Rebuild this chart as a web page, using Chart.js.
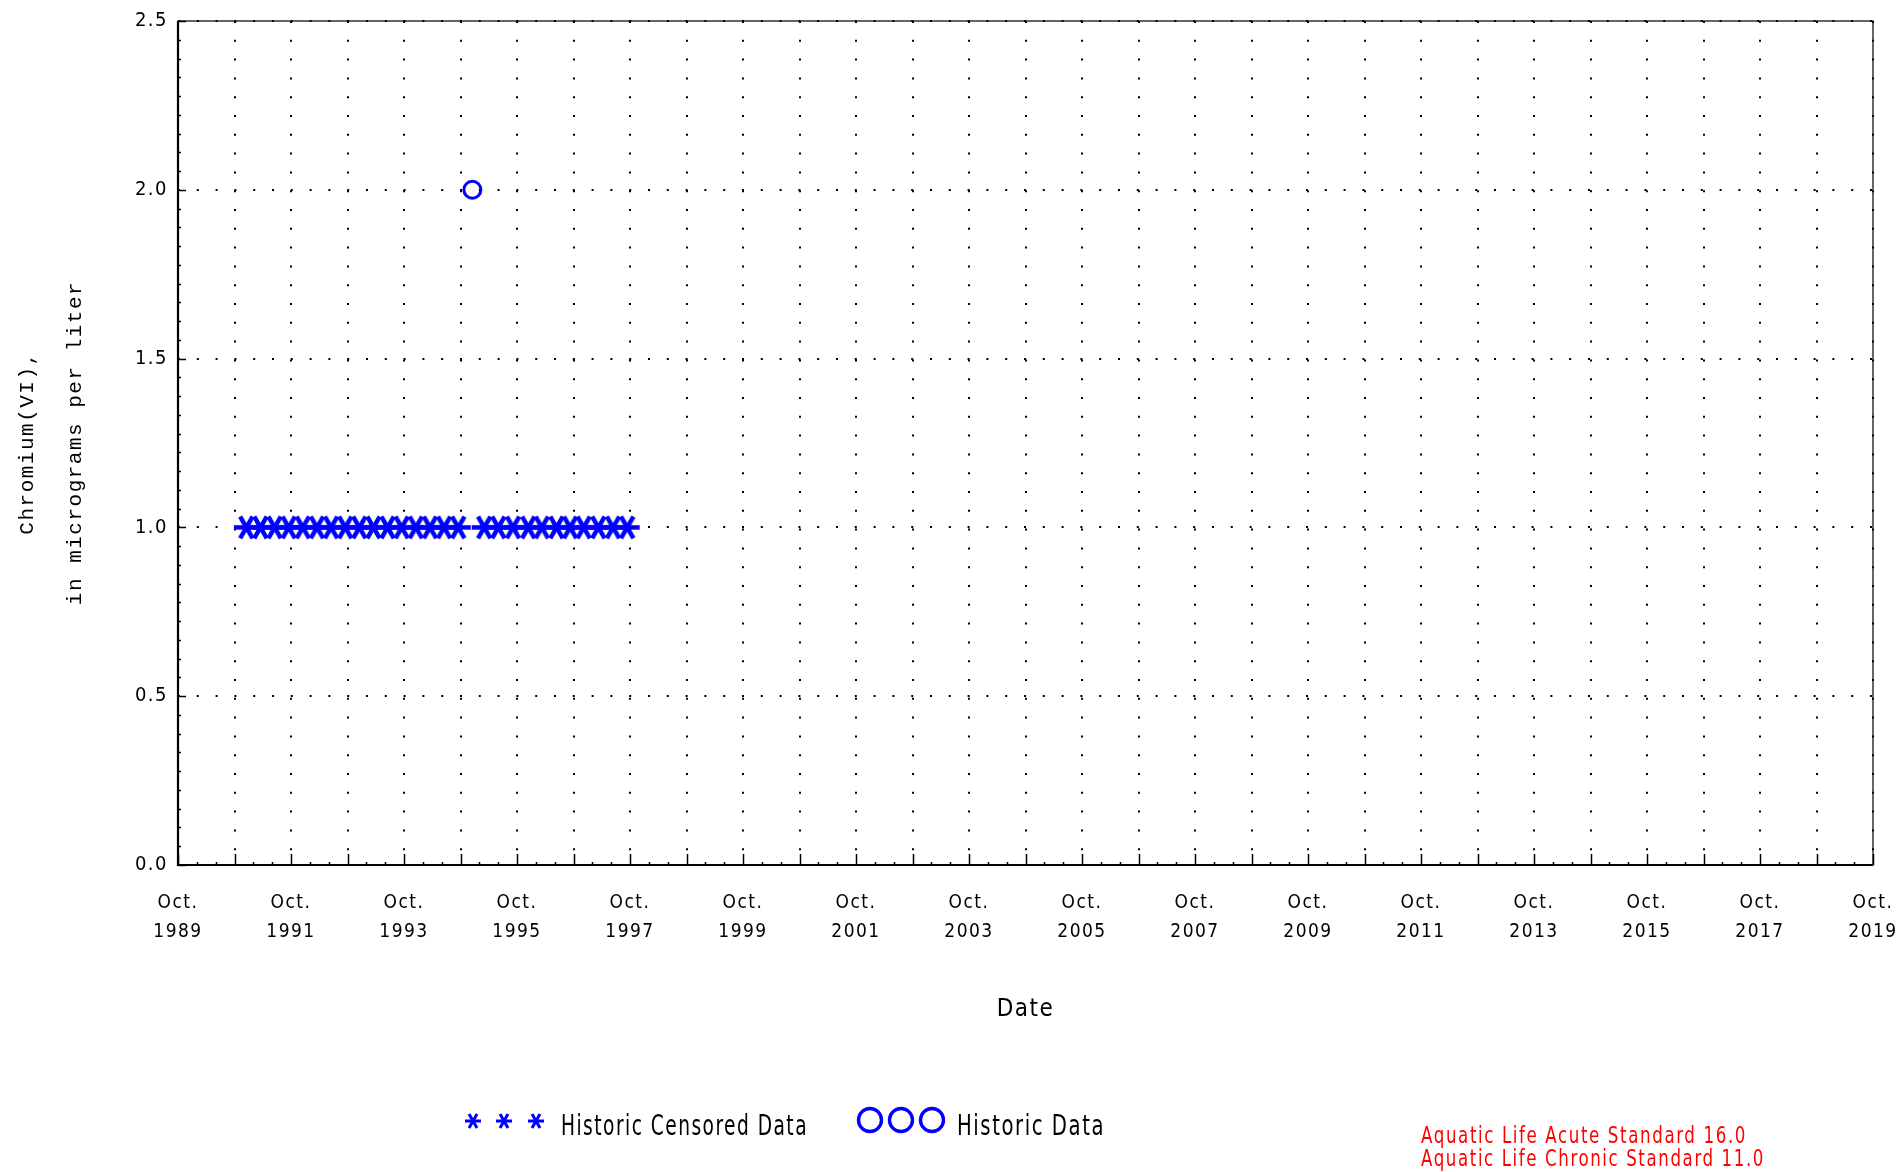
<!DOCTYPE html>
<html>
<head>
<meta charset="utf-8">
<title>Chromium(VI)</title>
<script src="https://cdn.jsdelivr.net/npm/chart.js@4/dist/chart.umd.min.js"></script>
<style>
  html, body { margin: 0; padding: 0; background: #fff; }
  canvas { display: block; }
</style>
</head>
<body>
<canvas id="chart" width="1900" height="1172"></canvas>
<script>
// Sample dates in decimal years (Oct. = .75)
const censoredDates = [
  1990.96, 1991.21, 1991.46, 1991.71, 1991.96, 1992.21, 1992.46, 1992.71,
  1992.96, 1993.21, 1993.46, 1993.71, 1993.96, 1994.21, 1994.46, 1994.71,
  1995.17, 1995.42, 1995.68, 1995.95, 1996.19, 1996.45, 1996.69, 1996.93,
  1997.19, 1997.45, 1997.70
];
const censoredValues = [
  1.0, 1.0, 1.0, 1.0, 1.0, 1.0, 1.0, 1.0,
  1.0, 1.0, 1.0, 1.0, 1.0, 1.0, 1.0, 1.0,
  1.0, 1.0, 1.0, 1.0, 1.0, 1.0, 1.0, 1.0,
  1.0, 1.0, 1.0
];
const historicDates = [1994.96];
const historicValues = [2.0];

// x axis: a grid line every October, a label every other year
const octoberTicks = [
  1989.75, 1990.75, 1991.75, 1992.75, 1993.75, 1994.75, 1995.75, 1996.75,
  1997.75, 1998.75, 1999.75, 2000.75, 2001.75, 2002.75, 2003.75, 2004.75,
  2005.75, 2006.75, 2007.75, 2008.75, 2009.75, 2010.75, 2011.75, 2012.75,
  2013.75, 2014.75, 2015.75, 2016.75, 2017.75, 2018.75, 2019.75
];
const labelYears = [1989, 1991, 1993, 1995, 1997, 1999, 2001, 2003, 2005, 2007, 2009, 2011, 2013, 2015, 2017, 2019];

const acuteStandard = 16.0;
const chronicStandard = 11.0;

const FONT = "'Liberation Sans Narrow', 'DejaVu Sans Condensed', 'Liberation Sans', sans-serif";
const MONO = "'Liberation Mono', 'DejaVu Sans Mono', monospace";
const BLUE = '#0000ff';

// six armed asterisk used as the censored marker
function makeStar(size, lw) {
  const c = document.createElement('canvas');
  c.width = size;
  c.height = size;
  const g = c.getContext('2d');
  g.strokeStyle = BLUE;
  g.lineWidth = lw;
  const m = size / 2;
  const r = size / 2 - 1;
  for (let k = 0; k < 3; k++) {
    const a = k * Math.PI / 3;
    g.beginPath();
    g.moveTo(m - r * Math.cos(a), m - r * Math.sin(a));
    g.lineTo(m + r * Math.cos(a), m + r * Math.sin(a));
    g.stroke();
  }
  return c;
}
const plotStar = makeStar(27, 4.5);
const legendStar = makeStar(18, 3);

// text squeezed to a given width, to mimic the narrow plotter font
function fitText(ctx, text, x, y, width) {
  const w = ctx.measureText(text).width;
  ctx.save();
  ctx.translate(x, y);
  ctx.scale(width / w, 1);
  ctx.fillText(text, 0, 0);
  ctx.restore();
}

// frame, inner tick marks, legend and the standards note
const extras = {
  id: 'extras',
  beforeDraw(chart) {
    chart.ctx.letterSpacing = '1.5px';
  },
  beforeDatasetsDraw(chart) {
    const { ctx, chartArea: a, scales } = chart;
    const x = scales.x, y = scales.y;
    ctx.save();
    ctx.strokeStyle = '#000';
    ctx.lineWidth = 1.5;
    ctx.beginPath();
    // x ticks: major each October, minor every 4 months
    octoberTicks.forEach((t, i) => {
      const px = Math.round(x.getPixelForValue(t)) + 0.5;
      ctx.moveTo(px, a.bottom); ctx.lineTo(px, a.bottom - 11);
      if (i < octoberTicks.length - 1) {
        [1 / 3, 2 / 3].forEach(f => {
          const mx = Math.round(x.getPixelForValue(t + f)) + 0.5;
          ctx.moveTo(mx, a.bottom); ctx.lineTo(mx, a.bottom - 3);
        });
      }
    });
    // y ticks: major each 0.5, minor in ninths
    for (let v = 0; v <= 2.5001; v += 0.5) {
      const py = Math.round(y.getPixelForValue(v)) + 0.5;
      ctx.moveTo(a.left, py); ctx.lineTo(a.left + 8, py);
      if (v < 2.5) {
        for (let k = 1; k < 9; k++) {
          const my = Math.round(y.getPixelForValue(v + k * 0.5 / 9)) + 0.5;
          ctx.moveTo(a.left, my); ctx.lineTo(a.left + 3, my);
        }
      }
    }
    ctx.stroke();
    // plot frame
    ctx.lineWidth = 1.2;
    ctx.strokeRect(a.left, a.top, a.right - a.left, a.bottom - a.top);
    ctx.lineWidth = 2.2;
    ctx.beginPath();
    ctx.moveTo(a.left, a.top); ctx.lineTo(a.left, a.bottom); ctx.lineTo(a.right, a.bottom);
    ctx.stroke();
    ctx.restore();
  },
  afterDraw(chart) {
    const ctx = chart.ctx;
    const ds = chart.data.datasets;
    ctx.save();
    ctx.letterSpacing = '2px';
    ctx.textBaseline = 'alphabetic';
    ctx.textAlign = 'left';
    // legend
    [473, 504, 536].forEach(cx => {
      ctx.drawImage(legendStar, cx - legendStar.width / 2, 1121 - legendStar.height / 2);
    });
    ctx.fillStyle = '#000';
    ctx.font = '28px ' + FONT;
    fitText(ctx, ds[0].label, 561, 1135, 247);
    ctx.strokeStyle = BLUE;
    ctx.lineWidth = 3.4;
    [870, 901, 932].forEach(cx => {
      ctx.beginPath();
      ctx.arc(cx, 1120, 11.5, 0, Math.PI * 2);
      ctx.stroke();
    });
    fitText(ctx, ds[1].label, 957, 1135, 148);
    // standards note
    ctx.fillStyle = '#ff0000';
    ctx.font = '23px ' + FONT;
    fitText(ctx, 'Aquatic Life Acute Standard ' + acuteStandard.toFixed(1), 1421, 1143, 326);
    fitText(ctx, 'Aquatic Life Chronic Standard ' + chronicStandard.toFixed(1), 1421, 1166, 344);
    ctx.restore();
  }
};

const chart = new Chart(document.getElementById('chart'), {
  type: 'scatter',
  data: {
    datasets: [
      {
        label: 'Historic Censored Data',
        data: censoredDates.map((d, i) => ({ x: d, y: censoredValues[i] })),
        pointStyle: plotStar,
        pointRadius: 12,
        borderColor: BLUE,
        backgroundColor: BLUE
      },
      {
        label: 'Historic Data',
        data: historicDates.map((d, i) => ({ x: d, y: historicValues[i] })),
        pointStyle: 'circle',
        pointRadius: 8.5,
        borderWidth: 3,
        borderColor: BLUE,
        backgroundColor: 'rgba(0,0,0,0)'
      }
    ]
  },
  options: {
    responsive: false,
    animation: false,
    devicePixelRatio: 1,
    layout: { padding: { top: 21, right: 27, left: 0, bottom: 0 } },
    plugins: {
      legend: { display: false },
      tooltip: { enabled: false }
    },
    scales: {
      x: {
        type: 'linear',
        min: 1989.75,
        max: 2019.75,
        afterFit: (scale) => {
          scale.height = 307;
          scale.paddingLeft = 0;
          scale.paddingRight = 0;
        },
        afterBuildTicks: (scale) => { scale.ticks = octoberTicks.map(v => ({ value: v })); },
        grid: { color: '#000', lineWidth: 2, drawTicks: false },
        border: { display: false, dash: [2, 16.8] },
        ticks: {
          autoSkip: false,
          maxRotation: 0,
          padding: 24,
          color: '#000',
          font: { family: FONT, size: 19, lineHeight: 1.5 },
          callback: (v) => {
            const yr = Math.round(v - 0.75);
            return labelYears.includes(yr) ? ['Oct.', String(yr)] : '';
          }
        },
        title: {
          display: true,
          text: 'Date',
          color: '#000',
          font: { family: FONT, size: 24, lineHeight: 1.2 },
          padding: { top: 0, bottom: 148 }
        }
      },
      y: {
        min: 0,
        max: 2.5,
        afterFit: (scale) => {
          scale.width = 178;
          scale.paddingTop = 0;
          scale.paddingBottom = 0;
        },
        grid: { color: '#000', lineWidth: 2, drawTicks: false },
        border: { display: false, dash: [2, 16.8] },
        ticks: {
          stepSize: 0.5,
          padding: 10,
          color: '#000',
          font: { family: FONT, size: 20 },
          callback: (v) => v.toFixed(1)
        },
        title: {
          display: true,
          text: ['Chromium(VI),', 'in micrograms per liter'],
          color: '#000',
          font: { family: MONO, size: 21, lineHeight: 2.3 },
          padding: { top: 3, bottom: 0 }
        }
      }
    }
  },
  plugins: [extras]
});
</script>
</body>
</html>
